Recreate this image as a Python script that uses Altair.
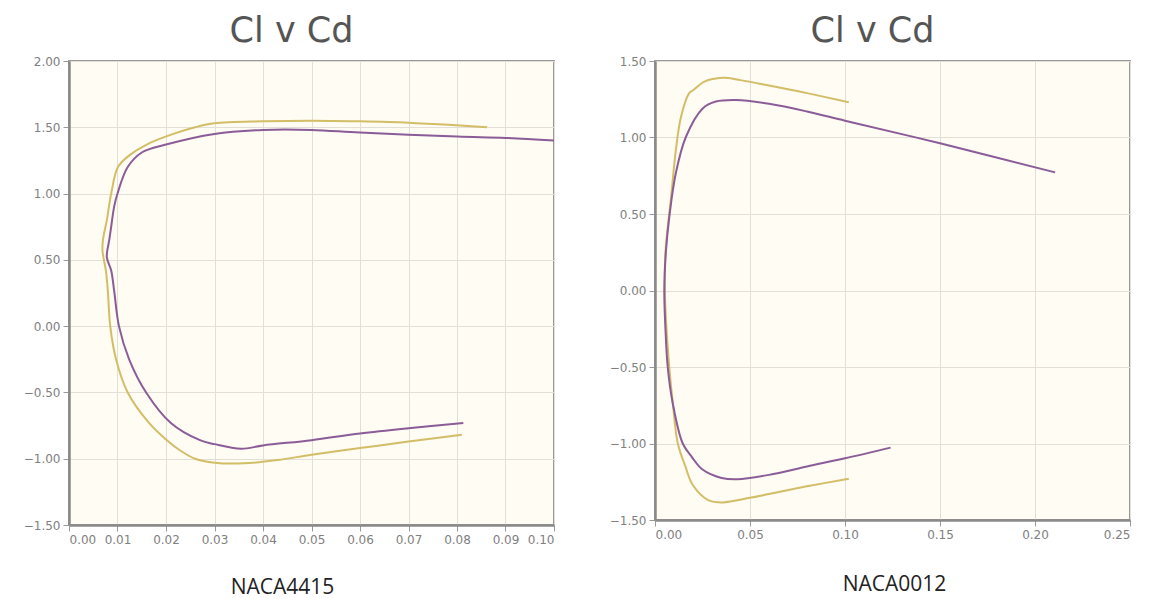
import altair as alt
import pandas as pd

# ---- NACA4415 (left panel) ----
a_yel_cd = [0.081, 0.070, 0.060, 0.050, 0.043, 0.036, 0.030, 0.026, 0.023, 0.020, 0.0165, 0.0121, 0.0097,
            0.0085, 0.0080, 0.0076, 0.0069, 0.0070, 0.0078, 0.0087, 0.0101, 0.0125, 0.016, 0.0215, 0.026,
            0.030, 0.040, 0.050, 0.060, 0.070, 0.080, 0.0862]
a_yel_cl = [-0.82, -0.87, -0.92, -0.97, -1.01, -1.035, -1.03, -1.00, -0.94, -0.855, -0.73, -0.50, -0.25,
            0.00, 0.27, 0.42, 0.57, 0.65, 0.80, 1.00, 1.20, 1.29, 1.37, 1.45, 1.50,
            1.53, 1.545, 1.55, 1.545, 1.535, 1.515, 1.50]
a_pur_cd = [0.0813, 0.070, 0.060, 0.050, 0.040, 0.0355, 0.030, 0.027, 0.021, 0.0159, 0.0124, 0.0103,
            0.0093, 0.0087, 0.0078, 0.0083, 0.0087, 0.0093, 0.0100, 0.0121, 0.015, 0.020, 0.030,
            0.040, 0.050, 0.060, 0.080, 0.090, 0.100]
a_pur_cl = [-0.73, -0.77, -0.81, -0.86, -0.90, -0.925, -0.89, -0.86, -0.73, -0.50, -0.25, 0.00,
            0.27, 0.42, 0.52, 0.65, 0.75, 0.90, 1.00, 1.20, 1.31, 1.37, 1.45,
            1.48, 1.48, 1.46, 1.43, 1.42, 1.40]

# ---- NACA0012 (right panel) ----
b_yel_cd = [0.102, 0.080, 0.060, 0.050, 0.0356, 0.028, 0.0198, 0.016, 0.012, 0.0095, 0.0075, 0.0058,
            0.0052, 0.0055, 0.0084, 0.011, 0.0137, 0.018, 0.0202, 0.026, 0.0356, 0.045, 0.060, 0.080, 0.102]
b_yel_cl = [-1.23, -1.28, -1.33, -1.355, -1.385, -1.37, -1.27, -1.15, -1.00, -0.75, -0.50, -0.20,
            0.00, 0.25, 0.60, 0.92, 1.136, 1.29, 1.31, 1.365, 1.39, 1.375, 1.34, 1.29, 1.23]
b_pur_cd = [0.124, 0.100, 0.080, 0.060, 0.0433, 0.035, 0.025, 0.0195, 0.0146, 0.0093, 0.0067, 0.0055,
            0.0049, 0.0058, 0.0077, 0.011, 0.0163, 0.0251, 0.032, 0.0426, 0.060, 0.080, 0.100, 0.150, 0.2106]
b_pur_cl = [-1.027, -1.097, -1.15, -1.205, -1.234, -1.225, -1.17, -1.09, -1.00, -0.735, -0.50, -0.25,
            0.00, 0.265, 0.50, 0.77, 1.005, 1.19, 1.235, 1.245, 1.22, 1.17, 1.11, 0.962, 0.772]

series_names = ["yellow", "purple"]
series_colors = ["#d3bd66", "#8b5c97"]

left_xticks = [0.00, 0.01, 0.02, 0.03, 0.04, 0.05, 0.06, 0.07, 0.08, 0.09, 0.10]
left_yticks = [-1.5, -1.0, -0.5, 0.0, 0.5, 1.0, 1.5, 2.0]
right_xticks = [0.00, 0.05, 0.10, 0.15, 0.20, 0.25]
right_yticks = [-1.5, -1.0, -0.5, 0.0, 0.5, 1.0, 1.5]


def make_df(yc, yl, pc, pl):
    rows = []
    for i, (c, l) in enumerate(zip(yc, yl)):
        rows.append({"cd": c, "cl": l, "series": "yellow", "idx": i})
    for i, (c, l) in enumerate(zip(pc, pl)):
        rows.append({"cd": c, "cl": l, "series": "purple", "idx": i})
    return pd.DataFrame(rows)


def panel(df, xdom, xticks, ydom, yticks, w, h, label, tx, ty):
    return alt.Chart(df).mark_line(strokeWidth=2, interpolate="catmull-rom").encode(
        x=alt.X("cd:Q", scale=alt.Scale(domain=xdom, nice=False, zero=False),
                axis=alt.Axis(values=xticks, format=".2f", title=label, titleX=tx, titleY=ty,
                              labelOverlap=False,
                              titleAnchor="middle", titleAlign="center", titleBaseline="middle",
                              titleFont="Open Sans", titleFontSize=21, titleFontWeight="normal",
                              titleColor="#222")),
        y=alt.Y("cl:Q", scale=alt.Scale(domain=ydom, nice=False, zero=False),
                axis=alt.Axis(values=yticks, format=".2f", title=None, minExtent=55, maxExtent=55)),
        color=alt.Color("series:N", scale=alt.Scale(domain=series_names, range=series_colors), legend=None),
        order=alt.Order("idx:Q"),
        detail="series:N",
    ).properties(
        width=w, height=h,
        title=alt.TitleParams("Cl v Cd", anchor="middle", frame="group", dx=-20,
                              font="DejaVu Sans", fontSize=35, fontWeight="normal", color="#555", offset=6),
    )


left = panel(make_df(a_yel_cd, a_yel_cl, a_pur_cd, a_pur_cl), [0, 0.10], left_xticks,
             [-1.5, 2.0], left_yticks, 485, 464, "NACA4415", 213, 62)
right = panel(make_df(b_yel_cd, b_yel_cl, b_pur_cd, b_pur_cl), [0, 0.25], right_xticks,
              [-1.5, 1.5], right_yticks, 475, 459, "NACA0012", 239, 64)

chart = alt.hconcat(left, right, spacing=101, bounds="flush").configure(
    background="white"
).configure_view(
    fill="#fefcf3", stroke="#999999", strokeWidth=2
).configure_axis(
    labelFont="DejaVu Sans", labelFontSize=12, labelColor="#808080",
    tickColor="#999999", tickSize=6, labelPadding=3,
    domainColor="#8a8a8a", domainWidth=2.5,
    gridColor="#e3dfd6", gridWidth=1,
)

chart.save("out.html", embed_options={"renderer": "svg", "actions": False})
